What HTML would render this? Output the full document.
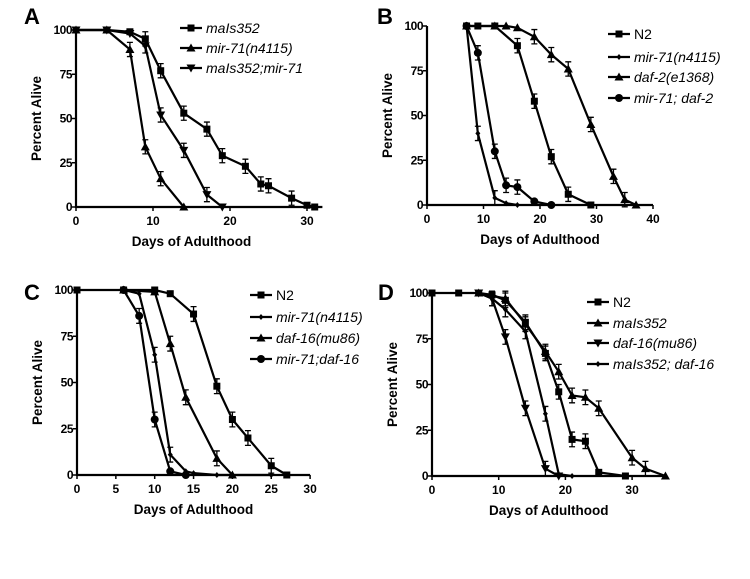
<!DOCTYPE html>
<html><head><meta charset="utf-8">
<style>
html,body{margin:0;padding:0;background:#fff;}
svg{display:block;font-family:"Liberation Sans",Arial,sans-serif;}
</style></head>
<body>
<svg id="fig" width="750" height="579" viewBox="0 0 750 579"></svg>
<script>
// ---- Panel A data ----
const aDays1=[0,4,7,9,11,14,17,19,22,24,25,28,30,31];
const aVals1=[100,100,99,95,77,53,44,29,23,13,12,5,1,0];
const aDays2=[0,4,7,9,11,14];
const aVals2=[100,100,89,34,16,0];
const aDays3=[0,4,7,9,11,14,17,19];
const aVals3=[100,100,98,91,52,32,7,0];
const aLabels=["maIs352","mir-71(n4115)","maIs352;mir-71"];
const aTicksX=[0,10,20,30];
// ---- Panel B data ----
const bDays1=[7,9,12,16,19,22,25,29];
const bVals1=[100,100,100,89,58,27,6,0];
const bDays2=[7,9,12,14,16];
const bVals2=[100,40,4,1,0];
const bDays3=[7,12,14,16,19,22,25,29,33,35,37];
const bVals3=[100,100,100,99,94,84,76,45,16,3,0];
const bDays4=[7,9,12,14,16,19,22];
const bVals4=[100,85,30,11,10,2,0];
const bLabels=["N2","mir-71(n4115)","daf-2(e1368)","mir-71; daf-2"];
const bTicksX=[0,10,20,30,40];
// ---- Panel C data ----
const cDays1=[0,6,10,12,15,18,20,22,25,27];
const cVals1=[100,100,100,98,87,48,30,20,5,0];
const cDays2=[6,8,10,12,14,15,18,25];
const cVals2=[100,98,65,11,2,1,0,0];
const cDays3=[6,10,12,14,18,20];
const cVals3=[100,99,71,42,9,0];
const cDays4=[6,8,10,12,14];
const cVals4=[100,86,30,2,0];
const cLabels=["N2","mir-71(n4115)","daf-16(mu86)","mir-71;daf-16"];
const cTicksX=[0,5,10,15,20,25,30];
// ---- Panel D data ----
const dDays1=[0,4,7,9,11,14,17,19,21,23,25,29];
const dVals1=[100,100,100,99,96,84,67,46,20,19,2,0];
const dDays2=[7,11,14,17,19,21,23,25,30,32,35];
const dVals2=[100,97,83,68,57,44,43,37,10,4,0];
const dDays3=[7,9,11,14,17,19];
const dVals3=[100,97,76,37,4,0];
const dDays4=[7,9,11,14,17,19,21];
const dVals4=[100,97,91,79,34,1,0];
const dLabels=["N2","maIs352","daf-16(mu86)","maIs352; daf-16"];
const dTicksX=[0,10,20,30];
const ticksY=[0,25,50,75,100];

const NS="http://www.w3.org/2000/svg";
const svg=document.getElementById('fig');
function mk(tag,attrs,parent){const e=document.createElementNS(NS,tag);for(const k in attrs)e.setAttribute(k,attrs[k]);(parent||svg).appendChild(e);return e;}

function marker(g,shape,x,y){
  let e;
  if(shape==='sq'){e=mk('rect',{x:x-3.5,y:y-3.5,width:7,height:7,fill:'#000'},g);}
  else if(shape==='tri'){e=mk('polygon',{points:`${x},${y-4.5} ${x+4.5},${y+3.5} ${x-4.5},${y+3.5}`,fill:'#000'},g);}
  else if(shape==='dtri'){e=mk('polygon',{points:`${x},${y+4.5} ${x+4.5},${y-3.5} ${x-4.5},${y-3.5}`,fill:'#000'},g);}
  else if(shape==='dia'){e=mk('polygon',{points:`${x},${y-3} ${x+2.5},${y} ${x},${y+3} ${x-2.5},${y}`,fill:'#000'},g);}
  else {e=mk('circle',{cx:x,cy:y,r:4,fill:'#000'},g);}
  return e;
}

function panel(p){
  const g=mk('g',{});
  
  
  const sx=v=>p.x0+v*p.ppd;
  const sy=v=>p.y0+(v)*(p.y100-p.y0)/100;
  const lt=mk('text',{x:p.lx,y:p.ly,'font-size':22,'font-weight':'bold'},g);lt.textContent=p.id;
  
  
  const ax=mk('line',{x1:p.x0,y1:p.y0,x2:sx(p.xend),y2:p.y0,stroke:'#000','stroke-width':2.2},g);
  
  
  const ay=mk('line',{x1:p.x0,y1:p.y0+1,x2:p.x0,y2:sy(100),stroke:'#000','stroke-width':2.2},g);
  
  
  p.ticksX.forEach(t=>{
    mk('line',{x1:sx(t),y1:p.y0,x2:sx(t),y2:p.y0+4,stroke:'#000','stroke-width':1.5},g);
    const tx=mk('text',{x:sx(t),y:p.y0+18,'font-size':12,'font-weight':'bold','text-anchor':'middle'},g);tx.textContent=t;
    
    
  });
  ticksY.forEach(t=>{
    mk('line',{x1:p.x0-4,y1:sy(t),x2:p.x0,y2:sy(t),stroke:'#000','stroke-width':1.5},g);
    const ty=mk('text',{x:p.x0-4,y:sy(t)+4,'font-size':12,'font-weight':'bold','text-anchor':'end','letter-spacing':-0.5},g);ty.textContent=t;
    
    
  });
  const xt=mk('text',{x:(p.x0+sx(p.xtitle))/2,y:p.y0+39,'font-size':13.5,'font-weight':'bold','text-anchor':'middle'},g);xt.textContent='Days of Adulthood';
  
  
  const yc=(p.y0+sy(100))/2;
  const yt=mk('text',{x:p.x0-35,y:yc,'font-size':13.5,'font-weight':'bold','text-anchor':'middle',transform:`rotate(-90 ${p.x0-35} ${yc})`},g);yt.textContent='Percent Alive';
  
  
  p.series.forEach((s,i)=>{
    const sg=mk('g',{},g);
    
    
    const pts=s.days.map((d,j)=>sx(d)+','+sy(s.vals[j])).join(' ');
    mk('polyline',{points:pts,fill:'none',stroke:'#000','stroke-width':2.2},sg);
    s.days.forEach((d,j)=>{
      const v=s.vals[j];
      if(v>2&&v<98){
        const e=4;
        mk('path',{d:`M${sx(d)},${sy(v+e)}V${sy(v-e)}M${sx(d)-3},${sy(v+e)}h6M${sx(d)-3},${sy(v-e)}h6`,stroke:'#000','stroke-width':1.3,fill:'none'},sg);
      }
      const m=marker(sg,s.shape,sx(d),sy(v));
      
      
    });
    const ly=p.legY[i];
    const le=mk('g',{},g);
    
    
    mk('line',{x1:p.legX,y1:ly,x2:p.legX+22,y2:ly,stroke:'#000','stroke-width':2.2},le);
    marker(le,s.shape,p.legX+11,ly);
    const t=mk('text',{x:p.legX+26,y:ly+5,'font-size':14,'font-style':s.label==='N2'?'normal':'italic'},le);t.textContent=s.label;
  });
}

panel({id:'A',lx:24,ly:24,x0:76,ppd:7.7,xend:32,xtitle:30,y0:207,y100:30,ticksX:aTicksX,legX:180,legY:[28,48,68],
  series:[{days:aDays1,vals:aVals1,shape:'sq',label:aLabels[0]},{days:aDays2,vals:aVals2,shape:'tri',label:aLabels[1]},{days:aDays3,vals:aVals3,shape:'dtri',label:aLabels[2]}]});
panel({id:'B',lx:377,ly:24,x0:427,ppd:5.65,xend:40,xtitle:40,y0:205,y100:26,ticksX:bTicksX,legX:608,legY:[34,57,77,98],
  series:[{days:bDays1,vals:bVals1,shape:'sq',label:bLabels[0]},{days:bDays2,vals:bVals2,shape:'dia',label:bLabels[1]},{days:bDays3,vals:bVals3,shape:'tri',label:bLabels[2]},{days:bDays4,vals:bVals4,shape:'circ',label:bLabels[3]}]});
panel({id:'C',lx:24,ly:300,x0:77,ppd:7.77,xend:30,xtitle:30,y0:475,y100:290,ticksX:cTicksX,legX:250,legY:[295,317,338,359],
  series:[{days:cDays1,vals:cVals1,shape:'sq',label:cLabels[0]},{days:cDays2,vals:cVals2,shape:'dia',label:cLabels[1]},{days:cDays3,vals:cVals3,shape:'tri',label:cLabels[2]},{days:cDays4,vals:cVals4,shape:'circ',label:cLabels[3]}]});
panel({id:'D',lx:378,ly:300,x0:432,ppd:6.67,xend:35,xtitle:35,y0:476,y100:293,ticksX:dTicksX,legX:587,legY:[302,323,343,364],
  series:[{days:dDays1,vals:dVals1,shape:'sq',label:dLabels[0]},{days:dDays2,vals:dVals2,shape:'tri',label:dLabels[1]},{days:dDays3,vals:dVals3,shape:'dtri',label:dLabels[2]},{days:dDays4,vals:dVals4,shape:'dia',label:dLabels[3]}]});
</script>
</body></html>
